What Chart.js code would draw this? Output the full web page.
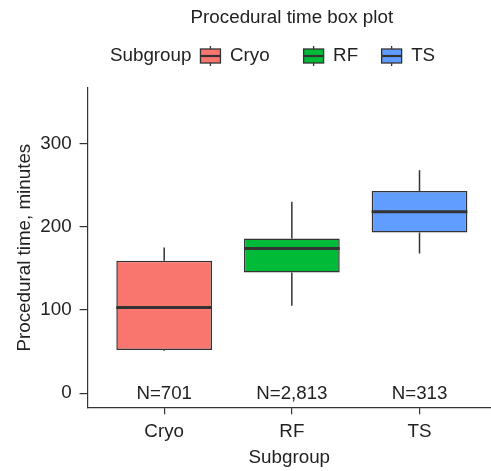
<!DOCTYPE html>
<html>
<head>
<meta charset="utf-8">
<script src="https://cdn.jsdelivr.net/npm/chart.js@4.4.0/dist/chart.umd.min.js"></script>
<style>
  html, body { margin: 0; padding: 0; background: #fff; }
  #wrap { width: 491px; height: 471px; }
</style>
</head>
<body>
<div id="wrap"><canvas id="boxChart" width="491" height="471"></canvas></div>
<script>
// Valores (minutos)
const subgroups = ["Cryo", "RF", "TS"];
const whiskerLow = [51, 105, 168];
const q1Values = [52, 145, 193];
const medianValues = [103, 174, 218];
const q3Values = [159, 186, 243];
const whiskerHigh = [175, 230, 268];
const countLabels = ["N=701", "N=2,813", "N=313"];
const yTicks = [0, 100, 200, 300];
const boxColors = ["#F8766D", "#00BA38", "#619CFF"];

const FONT = "'Liberation Sans', Arial, Helvetica, sans-serif";
const TEXT = "#222222";
const LINE = "#333333";

// Expansión del eje x al estilo ggplot (0.6 unidades a cada lado)
const X_MIN = -0.6;
const X_FULL = 2.6;

// Dibuja bigotes, medianas, etiquetas N, título y leyenda
const boxExtras = {
    id: "boxExtras",
    beforeDatasetsDraw(chart) {
        const { ctx, scales: { x, y } } = chart;
        ctx.save();
        ctx.strokeStyle = LINE;
        ctx.lineWidth = 1.5;
        subgroups.forEach((s, i) => {
            const px = x.getPixelForValue(i);
            ctx.beginPath();
            ctx.moveTo(px, y.getPixelForValue(q3Values[i]));
            ctx.lineTo(px, y.getPixelForValue(whiskerHigh[i]));
            ctx.moveTo(px, y.getPixelForValue(q1Values[i]));
            ctx.lineTo(px, y.getPixelForValue(whiskerLow[i]));
            ctx.stroke();
        });
        ctx.restore();
    },
    afterDatasetsDraw(chart) {
        const { ctx, scales: { x, y } } = chart;
        const meta = chart.getDatasetMeta(0);
        ctx.save();
        // medianas
        ctx.strokeStyle = LINE;
        ctx.lineWidth = 3;
        meta.data.forEach((bar, i) => {
            const { x: bx, width } = bar.getProps(["x", "width"], true);
            const py = y.getPixelForValue(medianValues[i]);
            ctx.beginPath();
            ctx.moveTo(bx - width / 2, py);
            ctx.lineTo(bx + width / 2, py);
            ctx.stroke();
        });
        // conteos
        ctx.fillStyle = TEXT;
        ctx.font = "18.7px " + FONT;
        ctx.textAlign = "center";
        ctx.textBaseline = "middle";
        countLabels.forEach((t, i) => {
            ctx.fillText(t, x.getPixelForValue(i), y.getPixelForValue(0) + 1);
        });
        ctx.restore();
    },
    afterDraw(chart) {
        const { ctx, scales: { x } } = chart;
        ctx.save();
        ctx.fillStyle = TEXT;
        ctx.font = "18.8px " + FONT;
        ctx.textBaseline = "middle";
        ctx.textAlign = "center";
        const panelCenter = (x.getPixelForValue(X_MIN) + x.getPixelForValue(X_FULL)) / 2;
        ctx.fillText("Procedural time box plot", panelCenter, 18);

        // leyenda horizontal con título a la izquierda
        const ly = 56;
        let lx = 110;
        ctx.textAlign = "left";
        ctx.fillText("Subgroup", lx, ly);
        lx += ctx.measureText("Subgroup").width + 9;
        const gaps = [34, 23.5, 0];
        subgroups.forEach((s, i) => {
            const kw = 20, kh = 14;
            const cx = lx + kw / 2;
            ctx.strokeStyle = LINE;
            ctx.lineWidth = 1.3;
            ctx.beginPath();
            ctx.moveTo(cx, ly - kh / 2 - 3);
            ctx.lineTo(cx, ly + kh / 2 + 3);
            ctx.stroke();
            ctx.fillStyle = boxColors[i];
            ctx.fillRect(lx, ly - kh / 2, kw, kh);
            ctx.strokeRect(lx, ly - kh / 2, kw, kh);
            ctx.lineWidth = 2.2;
            ctx.beginPath();
            ctx.moveTo(lx, ly);
            ctx.lineTo(lx + kw, ly);
            ctx.stroke();
            lx += kw + 9.5;
            ctx.fillStyle = TEXT;
            ctx.fillText(s, lx, ly);
            lx += ctx.measureText(s).width + gaps[i];
        });
        ctx.restore();
    }
};

const boxData = subgroups.map((s, i) => ({ x: i, y: [q1Values[i], q3Values[i]] }));

new Chart(document.getElementById("boxChart"), {
    type: "bar",
    data: {
        datasets: [{
            label: "Subgroup",
            data: boxData,
            backgroundColor: boxColors,
            borderColor: LINE,
            borderWidth: 1.5,
            borderSkipped: false,
            barPercentage: 0.75,
            categoryPercentage: 1
        }]
    },
    options: {
        responsive: false,
        animation: false,
        layout: { padding: { top: 88, right: 0, bottom: 0, left: 0 } },
        plugins: {
            legend: { display: false },
            tooltip: { enabled: false },
            title: { display: false }
        },
        scales: {
            x: {
                type: "linear",
                min: X_MIN,
                max: 2.56,
                offset: false,
                afterBuildTicks: (s) => { s.ticks = subgroups.map((_, i) => ({ value: i })); },
                ticks: {
                    callback: (v) => subgroups[v],
                    autoSkip: false,
                    maxRotation: 0,
                    padding: 6.5,
                    color: TEXT,
                    font: { family: FONT, size: 18.8 }
                },
                grid: { display: true, offset: false, drawOnChartArea: false, drawTicks: true, tickLength: 7, color: LINE, lineWidth: 1.2 },
                border: { display: true, color: LINE, width: 1.2 },
                title: {
                    display: true,
                    text: "Subgroup",
                    color: TEXT,
                    font: { family: FONT, size: 18.8 },
                    padding: { top: -3.6, bottom: 2.2 }
                }
            },
            y: {
                min: -16.9,
                max: 366.7,
                afterBuildTicks: (s) => { s.ticks = yTicks.map(v => ({ value: v })); },
                ticks: {
                    padding: 8,
                    color: TEXT,
                    font: { family: FONT, size: 18.8 }
                },
                grid: { display: true, drawOnChartArea: false, drawTicks: true, tickLength: 8, color: LINE, lineWidth: 1.2 },
                border: { display: true, color: LINE, width: 1.2 },
                title: {
                    display: true,
                    text: "Procedural time, minutes",
                    color: TEXT,
                    font: { family: FONT, size: 18.8 },
                    padding: { top: 13.7, bottom: -4 }
                }
            }
        }
    },
    plugins: [boxExtras]
});
</script>
</body>
</html>
